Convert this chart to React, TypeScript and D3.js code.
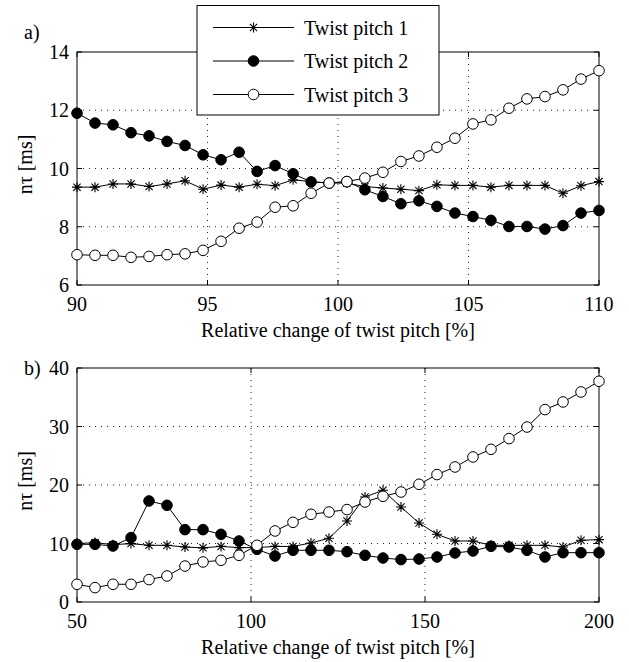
import React, { useEffect, useRef } from "react";
import * as d3 from "d3";

// x positions (relative change of twist pitch, %)
const xTop = [
  90, 90.69, 91.38, 92.07, 92.76, 93.45, 94.14, 94.83, 95.52, 96.21, 96.9,
  97.59, 98.28, 98.97, 99.66, 100.34, 101.03, 101.72, 102.41, 103.1, 103.79,
  104.48, 105.17, 105.86, 106.55, 107.24, 107.93, 108.62, 109.31, 110,
];
const xBottom = [
  50, 55.17, 60.34, 65.52, 70.69, 75.86, 81.03, 86.21, 91.38, 96.55, 101.72,
  106.9, 112.07, 117.24, 122.41, 127.59, 132.76, 137.93, 143.1, 148.28,
  153.45, 158.62, 163.79, 168.97, 174.14, 179.31, 184.48, 189.66, 194.83, 200,
];

// panel a)
const topPitch1 = [
  9.36, 9.36, 9.47, 9.47, 9.38, 9.47, 9.58, 9.29, 9.43, 9.36, 9.46, 9.41,
  9.61, 9.55, 9.5, 9.5, 9.38, 9.33, 9.29, 9.24, 9.44, 9.42, 9.42, 9.36, 9.42,
  9.42, 9.42, 9.15, 9.41, 9.55,
];
const topPitch2 = [
  11.9, 11.56, 11.5, 11.23, 11.12, 10.93, 10.79, 10.47, 10.3, 10.56, 9.9,
  10.1, 9.82, 9.54, 9.5, 9.55, 9.27, 9.04, 8.79, 8.89, 8.7, 8.47, 8.35, 8.22,
  8.01, 8.01, 7.92, 8.04, 8.47, 8.56,
];
const topPitch3 = [
  7.04, 7.02, 7.02, 6.95, 6.98, 7.04, 7.07, 7.19, 7.5, 7.95, 8.16, 8.67, 8.72,
  9.15, 9.5, 9.55, 9.67, 9.87, 10.24, 10.43, 10.73, 11.04, 11.53, 11.67,
  12.07, 12.39, 12.47, 12.7, 13.07, 13.36,
];

// panel b)
const bottomPitch1 = [
  9.98, 10.15, 9.8, 9.98, 9.69, 9.69, 9.4, 9.26, 9.5, 9.3, 9.3, 9.5, 9.5,
  10.09, 10.9, 13.85, 17.95, 19.09, 16.24, 13.5, 11.57, 10.43, 10.43, 9.69,
  9.69, 9.69, 9.69, 9.4, 10.55, 10.66,
];
const bottomPitch2 = [
  9.86, 9.86, 9.57, 11.0, 17.27, 16.53, 12.37, 12.37, 11.57, 10.43, 9.0, 7.86,
  8.84, 8.84, 8.84, 8.6, 7.98, 7.52, 7.25, 7.35, 7.69, 8.38, 8.72, 9.52, 9.4,
  8.84, 7.69, 8.43, 8.43, 8.43,
];
const bottomPitch3 = [
  3.03, 2.46, 3.03, 3.03, 3.83, 4.45, 6.15, 6.84, 7.13, 7.98, 9.69, 12.14,
  13.62, 14.99, 15.38, 15.8, 17.09, 18.07, 18.8, 20.12, 21.78, 23.08, 24.79,
  26.1, 27.93, 29.91, 32.89, 34.19, 35.9, 37.73,
];

const seriesNames = ["Twist pitch 1", "Twist pitch 2", "Twist pitch 3"];
const markerKinds = ["star", "filled", "open"];

const topXTicks = [90, 95, 100, 105, 110];
const topYTicks = [6, 8, 10, 12, 14];
const bottomXTicks = [50, 100, 150, 200];
const bottomYTicks = [0, 10, 20, 30, 40];

const FONT = "Liberation Serif";
const STAR = "M-5,0H5M0,-5V5M-3.6,-3.6L3.6,3.6M-3.6,3.6L3.6,-3.6";

function label(g: any, s: string | number, x: number, y: number, anchor = "start") {
  return g
    .append("text")
    .text(s)
    .attr("x", x)
    .attr("y", y)
    .attr("text-anchor", anchor)
    .attr("font-family", FONT)
    .attr("font-size", "20px")
    .attr("fill", "#000");
}

function drawMarker(g: any, kind: string, x: number, y: number) {
  if (kind === "star") {
    g.append("path")
      .attr("d", STAR)
      .attr("transform", `translate(${x},${y})`)
      .attr("stroke", "#000")
      .attr("stroke-width", 1.1)
      .attr("fill", "none");
  } else {
    g.append("circle")
      .attr("cx", x)
      .attr("cy", y)
      .attr("r", 5.3)
      .attr("fill", kind === "filled" ? "#000" : "#fff")
      .attr("stroke", "#000")
      .attr("stroke-width", 1);
  }
}

function drawPanel(
  svg: any,
  box: { left: number; right: number; top: number; bottom: number },
  xDomain: [number, number],
  yDomain: [number, number],
  xTicks: number[],
  yTicks: number[],
  xs: number[],
  series: number[][],
  tag: string,
  tagY: number
) {
  const x = d3.scaleLinear().domain(xDomain).range([box.left, box.right]);
  const y = d3.scaleLinear().domain(yDomain).range([box.bottom, box.top]);
  const g = svg.append("g");

  // dotted grid
  g.selectAll(".gx")
    .data(xTicks.slice(1, -1))
    .join("line")
    .attr("x1", (d: number) => x(d))
    .attr("x2", (d: number) => x(d))
    .attr("y1", box.top)
    .attr("y2", box.bottom)
    .attr("stroke", "#222")
    .attr("stroke-width", 1)
    .attr("stroke-dasharray", "1 5");
  g.selectAll(".gy")
    .data(yTicks.slice(1, -1))
    .join("line")
    .attr("x1", box.left)
    .attr("x2", box.right)
    .attr("y1", (d: number) => y(d))
    .attr("y2", (d: number) => y(d))
    .attr("stroke", "#222")
    .attr("stroke-width", 1)
    .attr("stroke-dasharray", "1 5");

  // ticks on all four sides, pointing in
  const tl = 5;
  xTicks.forEach((t) => {
    g.append("line").attr("x1", x(t)).attr("x2", x(t)).attr("y1", box.bottom).attr("y2", box.bottom - tl).attr("stroke", "#000");
    g.append("line").attr("x1", x(t)).attr("x2", x(t)).attr("y1", box.top).attr("y2", box.top + tl).attr("stroke", "#000");
    label(g, t, x(t), box.bottom + 26, "middle");
  });
  yTicks.forEach((t) => {
    g.append("line").attr("x1", box.left).attr("x2", box.left + tl).attr("y1", y(t)).attr("y2", y(t)).attr("stroke", "#000");
    g.append("line").attr("x1", box.right).attr("x2", box.right - tl).attr("y1", y(t)).attr("y2", y(t)).attr("stroke", "#000");
    label(g, t, box.left - 8, y(t) + 7, "end");
  });

  g.append("rect")
    .attr("x", box.left)
    .attr("y", box.top)
    .attr("width", box.right - box.left)
    .attr("height", box.bottom - box.top)
    .attr("fill", "none")
    .attr("stroke", "#000")
    .attr("stroke-width", 1);

  // series
  const line = d3
    .line<number>()
    .x((d, i) => x(xs[i]))
    .y((d) => y(d));
  series.forEach((vals, s) => {
    g.append("path")
      .attr("d", line(vals))
      .attr("fill", "none")
      .attr("stroke", "#000")
      .attr("stroke-width", 1);
    vals.forEach((v, i) => drawMarker(g, markerKinds[s], x(xs[i]), y(v)));
  });

  // labels
  label(g, "Relative change of twist pitch [%]", (box.left + box.right) / 2, box.bottom + 52, "middle");
  label(g, "nτ [ms]", 0, 0, "middle").attr(
    "transform",
    `translate(32,${(box.top + box.bottom) / 2 - 4}) rotate(-90)`
  );
  label(g, tag, 24, tagY);
}

const App = () => {
  const ref = useRef<SVGSVGElement>(null);

  useEffect(() => {
    const svg = d3.select(ref.current);
    svg.selectAll("*").remove();

    drawPanel(
      svg,
      { left: 77, right: 599, top: 52, bottom: 285 },
      [90, 110],
      [6, 14],
      topXTicks,
      topYTicks,
      xTop,
      [topPitch1, topPitch2, topPitch3],
      "a)",
      39
    );
    drawPanel(
      svg,
      { left: 77, right: 599, top: 368, bottom: 602 },
      [50, 200],
      [0, 40],
      bottomXTicks,
      bottomYTicks,
      xBottom,
      [bottomPitch1, bottomPitch2, bottomPitch3],
      "b)",
      375
    );

    // legend
    const lg = svg.append("g");
    lg.append("rect")
      .attr("x", 197)
      .attr("y", 5.5)
      .attr("width", 242)
      .attr("height", 109.5)
      .attr("fill", "#fff")
      .attr("stroke", "#000")
      .attr("stroke-width", 1);
    const rowY = d3.scaleLinear().domain([0, 2]).range([27.5, 94.5]);
    seriesNames.forEach((name, i) => {
      const yy = rowY(i);
      lg.append("line")
        .attr("x1", 213)
        .attr("x2", 294)
        .attr("y1", yy)
        .attr("y2", yy)
        .attr("stroke", "#000")
        .attr("stroke-width", 1);
      drawMarker(lg, markerKinds[i], 253.5, yy);
      label(lg, name, 304, yy + 7);
    });
  });

  return (
    <svg
      ref={ref}
      width={629}
      height={662}
      style={{ position: "absolute", left: 0, top: 0, background: "#fff" }}
    ></svg>
  );
};

export default App;
